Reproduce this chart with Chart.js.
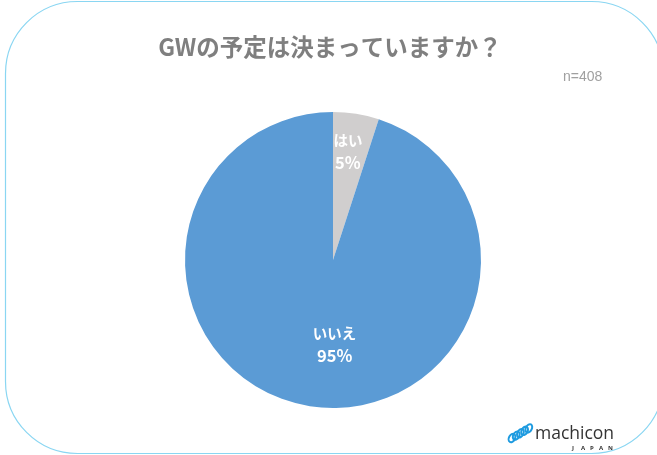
<!DOCTYPE html>
<html>
<head>
<meta charset="utf-8">
<script src="https://cdn.jsdelivr.net/npm/chart.js@4/dist/chart.umd.min.js"></script>
<style>
html,body{margin:0;padding:0;background:#fff;}
#wrap{position:relative;width:657px;height:455px;}
</style>
</head>
<body>
<div id="wrap"><canvas id="c" width="657" height="455"></canvas></div>
<script>
const categories = ["はい", "いいえ"];
const values = [5, 95];
const colors = ["#D0CECE", "#5B9BD5"];
const titleText = "GWの予定は決まっていますか？";
const sampleText = "n=408";

const FONT = '"Noto Sans CJK JP", "Noto Sans", sans-serif';

const decor = {
  id: 'decor',
  beforeDraw(chart) {
    const ctx = chart.ctx;
    ctx.save();
    ctx.fillStyle = '#fff';
    ctx.fillRect(0, 0, chart.width, chart.height);
    const x = 5.5, y = 1.5, w = 658, h = 452, r = 72;
    ctx.beginPath();
    ctx.moveTo(x + r, y);
    ctx.lineTo(x + w - r, y);
    ctx.arcTo(x + w, y, x + w, y + r, r);
    ctx.lineTo(x + w, y + h - r);
    ctx.arcTo(x + w, y + h, x + w - r, y + h, r);
    ctx.lineTo(x + r, y + h);
    ctx.arcTo(x, y + h, x, y + h - r, r);
    ctx.lineTo(x, y + r);
    ctx.arcTo(x, y, x + r, y, r);
    ctx.closePath();
    ctx.strokeStyle = '#8AD6F2';
    ctx.lineWidth = 1.2;
    ctx.stroke();
    ctx.restore();
  },
  afterDraw(chart) {
    const ctx = chart.ctx;
    ctx.save();
    ctx.fillStyle = '#7F7F7F';
    ctx.font = 'bold 23.5px ' + FONT;
    ctx.textAlign = 'center';
    ctx.textBaseline = 'middle';
    ctx.fillText(titleText, 330, 47);
    ctx.fillStyle = '#A0A0A0';
    ctx.font = '14px "Liberation Sans", Arial, sans-serif';
    ctx.textAlign = 'left';
    ctx.fillText(sampleText, 563, 77);
    const meta = chart.getDatasetMeta(0);
    const total = values.reduce((a, b) => a + b, 0);
    const radial = [0.73, 0.578];
    const shift = [[-2, -2], [15, 0]];
    ctx.fillStyle = '#FFFFFF';
    ctx.textAlign = 'center';
    meta.data.forEach((arc, i) => {
      const p = arc.getProps(['x', 'y', 'startAngle', 'endAngle', 'outerRadius']);
      const mid = (p.startAngle + p.endAngle) / 2;
      const rr = p.outerRadius * radial[i];
      const cx = p.x + Math.cos(mid) * rr + shift[i][0];
      const cy = p.y + Math.sin(mid) * rr + shift[i][1];
      const pct = Math.round(values[i] / total * 100) + '%';
      ctx.font = 'bold 14.5px ' + FONT;
      ctx.fillText(categories[i], cx, cy - 11);
      ctx.font = 'bold 16.5px ' + FONT;
      ctx.fillText(pct, cx, cy + 11);
    });
    // logo
    ctx.strokeStyle = '#1E9BE0';
    ctx.lineWidth = 2;
    for (let k = 0; k < 5; k++) {
      ctx.beginPath();
      ctx.ellipse(512 + k * 4.2, 438 - k * 2.4, 3, 4.5, 0.5, 0, Math.PI * 2);
      ctx.stroke();
    }
    ctx.fillStyle = '#333333';
    ctx.font = '17.5px "Open Sans", "Noto Sans", sans-serif';
    ctx.textAlign = 'left';
    ctx.textBaseline = 'alphabetic';
    ctx.fillText('machicon', 535, 439);
    ctx.font = 'bold 6px "Open Sans", sans-serif';
    const letters = 'JAPAN';
    for (let k = 0; k < letters.length; k++) {
      ctx.fillText(letters[k], 572 + k * 9, 450);
    }
    ctx.restore();
  }
};

new Chart(document.getElementById('c'), {
  type: 'pie',
  data: {
    labels: categories,
    datasets: [{
      data: values,
      backgroundColor: colors,
      borderWidth: 0
    }]
  },
  options: {
    responsive: false,
    animation: false,
    layout: { padding: { top: 112, bottom: 47, left: 185, right: 176 } },
    plugins: {
      legend: { display: false },
      tooltip: { enabled: false },
      title: { display: false }
    }
  },
  plugins: [decor]
});
</script>
</body>
</html>
